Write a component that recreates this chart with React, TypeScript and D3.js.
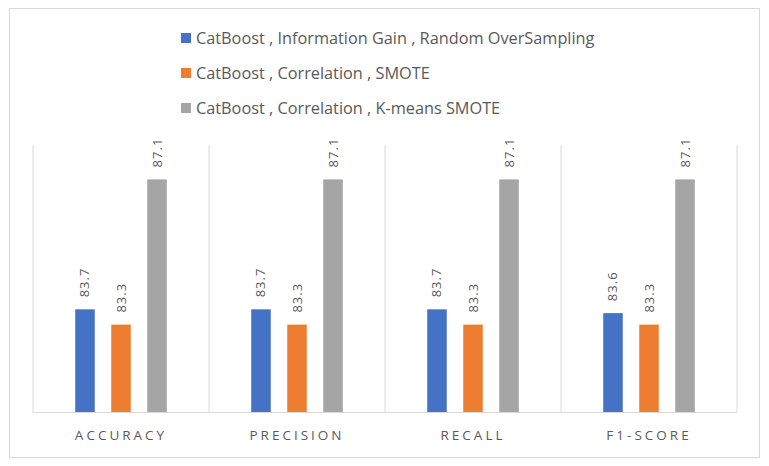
import React from "react";
import * as d3 from "d3";

const categories = ["ACCURACY", "PRECISION", "RECALL", "F1-SCORE"];
const seriesNames = [
  "CatBoost , Information Gain , Random OverSampling",
  "CatBoost , Correlation , SMOTE",
  "CatBoost , Correlation , K-means SMOTE",
];
const seriesA = [83.7, 83.7, 83.7, 83.6];
const seriesB = [83.3, 83.3, 83.3, 83.3];
const seriesC = [87.1, 87.1, 87.1, 87.1];
const colors = ["#4472C4", "#ED7D31", "#A5A5A5"];

const W = 769, H = 466;
const left = 33, right = 737, top = 145, bottom = 412.5;
const font = "'Open Sans', 'Noto Sans', sans-serif";
const textColor = "#595959";

export default function App() {
  const series = [seriesA, seriesB, seriesC];
  const x0 = d3.scaleBand().domain(categories).range([left, right]).padding(0);
  const x1 = d3.scaleBand().domain(["0", "1", "2"]).range([0, x0.bandwidth()]).paddingInner(0.458).paddingOuter(1.173);
  const y = d3.scaleLinear().domain([81, 88]).range([bottom, top]);
  const legendX = 181;
  const legendY = [38, 73, 108];
  return (
    <svg width={W} height={H} style={{ position: "absolute", left: 0, top: 0 }}>
      <rect x={0} y={0} width={W} height={H} fill="#fff" />
      <rect x={9.5} y={8.5} width={750} height={449} fill="none" stroke="#d9d9d9" />
      {categories.map((c, i) => (
        <line key={"g" + i} x1={x0(c)!} x2={x0(c)!} y1={top} y2={bottom} stroke="#d9d9d9" />
      ))}
      <line x1={right} x2={right} y1={top} y2={bottom} stroke="#d9d9d9" />
      {series.map((s, si) =>
        categories.map((c, ci) => {
          const bx = x0(c)! + x1(String(si))!;
          const by = y(s[ci]);
          return (
            <g key={si + "-" + ci}>
              <rect x={bx} y={by} width={x1.bandwidth()} height={bottom - by} fill={colors[si]} />
              <text
                transform={`translate(${bx + x1.bandwidth() / 2 + 4.5},${by - 12}) rotate(-90)`}
                fontFamily={font}
                fontSize={13}
                letterSpacing={1}
                fill={textColor}
              >
                {s[ci].toFixed(1)}
              </text>
            </g>
          );
        })
      )}
      <line x1={left} x2={right} y1={bottom} y2={bottom} stroke="#d9d9d9" />
      {categories.map((c, i) => (
        <text
          key={"c" + i}
          x={x0(c)! + x0.bandwidth() / 2}
          y={440}
          textAnchor="middle"
          fontFamily={font}
          fontSize={13.5}
          letterSpacing={3}
          fill={textColor}
        >
          {c}
        </text>
      ))}
      {seriesNames.map((n, i) => (
        <g key={"l" + i}>
          <rect x={legendX} y={legendY[i] - 5} width={10} height={10} fill={colors[i]} />
          <text x={legendX + 15} y={legendY[i] + 6} fontFamily={font} fontSize={16.3} fill={textColor}>
            {n}
          </text>
        </g>
      ))}
    </svg>
  );
}
